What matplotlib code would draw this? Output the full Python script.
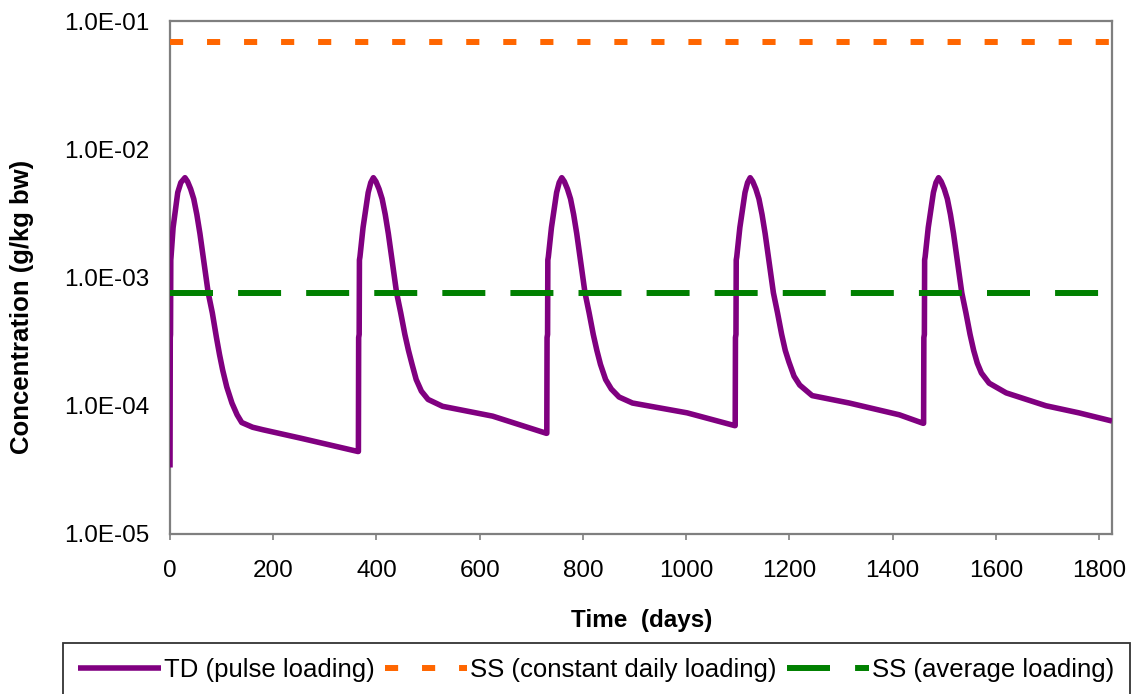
import matplotlib
matplotlib.use('Agg')
import matplotlib.pyplot as plt
from matplotlib.ticker import FixedLocator, FuncFormatter, NullLocator

plt.rcParams['font.family'] = ['Liberation Sans', 'DejaVu Sans']

# ---------------- data ----------------
# TD (pulse loading): time (days) and concentration (g/kg bw)
td_days_c1 = [0, 0.5, 1, 1.5, 2, 6, 15, 21, 29, 34, 40, 46, 52, 58, 66, 74, 82, 90, 96, 102,
              110, 120, 130, 139, 160, 180, 252, 364]
td_conc_c1 = [3.3e-5, 3.4e-4, 3.6e-4, 1.37e-3, 1.45e-3, 2.45e-3, 4.6e-3, 5.5e-3, 6.0e-3, 5.6e-3,
              4.9e-3, 4.1e-3, 3.1e-3, 2.2e-3, 1.3e-3, 7.6e-4, 5.3e-4, 3.4e-4, 2.5e-4, 1.9e-4,
              1.4e-4, 1.05e-4, 8.5e-5, 7.4e-5, 6.8e-5, 6.5e-5, 5.6e-5, 4.4e-5]

td_days_c2 = [365, 365.5, 366.5, 367, 368, 374, 384, 389, 394, 399, 405, 411, 417, 423, 431, 439,
              447, 455, 462, 469, 477, 487, 500, 528, 625, 729]
td_conc_c2 = [4.4e-5, 3.4e-4, 3.6e-4, 1.37e-3, 1.45e-3, 2.45e-3, 4.6e-3, 5.5e-3, 6.0e-3, 5.6e-3,
              4.9e-3, 4.1e-3, 3.1e-3, 2.2e-3, 1.3e-3, 7.6e-4, 5.3e-4, 3.6e-4, 2.7e-4, 2.1e-4,
              1.6e-4, 1.3e-4, 1.12e-4, 9.9e-5, 8.3e-5, 6.1e-5]

td_days_c3 = [730, 730.5, 731.5, 732, 733, 739, 749, 754, 759, 764, 770, 776, 782, 788, 796, 804,
              812, 820, 827, 834, 844, 855, 870, 896, 962, 1002, 1094]
td_conc_c3 = [6.1e-5, 3.4e-4, 3.6e-4, 1.37e-3, 1.45e-3, 2.45e-3, 4.6e-3, 5.5e-3, 6.0e-3, 5.6e-3,
              4.9e-3, 4.1e-3, 3.1e-3, 2.2e-3, 1.3e-3, 7.6e-4, 5.3e-4, 3.6e-4, 2.7e-4, 2.1e-4,
              1.6e-4, 1.35e-4, 1.17e-4, 1.05e-4, 9.4e-5, 8.8e-5, 7.0e-5]

td_days_c4 = [1095, 1095.5, 1096.5, 1097, 1098, 1104, 1114, 1119, 1124, 1129, 1135, 1141, 1147,
              1153, 1161, 1169, 1177, 1185, 1192, 1199, 1209, 1220, 1244, 1316, 1413, 1459]
td_conc_c4 = [7.0e-5, 3.4e-4, 3.6e-4, 1.37e-3, 1.45e-3, 2.45e-3, 4.6e-3, 5.5e-3, 6.0e-3, 5.6e-3,
              4.9e-3, 4.1e-3, 3.1e-3, 2.2e-3, 1.3e-3, 7.6e-4, 5.3e-4, 3.6e-4, 2.7e-4, 2.2e-4,
              1.7e-4, 1.45e-4, 1.2e-4, 1.05e-4, 8.5e-5, 7.3e-5]

td_days_c5 = [1460, 1460.5, 1461.5, 1462, 1463, 1469, 1479, 1484, 1489, 1494, 1500, 1506, 1512,
              1518, 1526, 1534, 1542, 1550, 1557, 1564, 1572, 1587, 1620, 1697, 1761, 1825]
td_conc_c5 = [7.3e-5, 3.4e-4, 3.6e-4, 1.37e-3, 1.45e-3, 2.45e-3, 4.6e-3, 5.5e-3, 6.0e-3, 5.6e-3,
              4.9e-3, 4.1e-3, 3.1e-3, 2.2e-3, 1.3e-3, 7.6e-4, 5.3e-4, 3.6e-4, 2.7e-4, 2.15e-4,
              1.8e-4, 1.5e-4, 1.26e-4, 1.0e-4, 8.8e-5, 7.6e-5]

ss_days = [0, 1825]
ss_const = [6.9e-2, 6.9e-2]       # SS (constant daily loading)
ss_avg = [7.6e-4, 7.6e-4]         # SS (average loading)

x_ticks = [0, 200, 400, 600, 800, 1000, 1200, 1400, 1600, 1800]
y_ticks = [1e-5, 1e-4, 1e-3, 1e-2, 1e-1]

labels = ['TD (pulse loading)', 'SS (constant daily loading)', 'SS (average loading)']

td_days = td_days_c1 + td_days_c2 + td_days_c3 + td_days_c4 + td_days_c5
td_conc = td_conc_c1 + td_conc_c2 + td_conc_c3 + td_conc_c4 + td_conc_c5

# ---------------- figure ----------------
W, H = 1136, 694
fig = plt.figure(figsize=(W / 100, H / 100), dpi=100)
ax = fig.add_axes([170 / W, (H - 534) / H, 942 / W, 513 / H])

ax.plot(td_days, td_conc, color='#800080', lw=4.0, solid_joinstyle='round',
        solid_capstyle='butt', label=labels[0], zorder=3)
ax.plot(ss_days, ss_const, color='#FF6600', lw=4.3, dashes=(2.2, 4.0),
        dash_capstyle='butt', label=labels[1], zorder=4)
ax.plot(ss_days, ss_avg, color='#008000', lw=4.3, dashes=(7.2, 4.2),
        dash_capstyle='butt', label=labels[2], zorder=4)

ax.set_yscale('log')
ax.set_ylim(1e-5, 1e-1)
ax.set_xlim(0, 1825)
ax.yaxis.set_major_locator(FixedLocator(y_ticks))
ax.yaxis.set_minor_locator(NullLocator())
ax.yaxis.set_major_formatter(FuncFormatter(lambda v, p: f'{v:.1E}'))
ax.xaxis.set_major_locator(FixedLocator(x_ticks))

for s in ax.spines.values():
    s.set_color('#7f7f7f')
    s.set_linewidth(1.6)

ax.tick_params(axis='x', direction='out', length=4, width=1.2, color='#7f7f7f',
               labelsize=17.5, pad=15, labelcolor='black')
ax.tick_params(axis='y', length=0, labelsize=17.5, pad=15, labelcolor='black')

fig.text(22 / W, 1 - 307 / H, 'Concentration (g/kg bw)', rotation=90,
         ha='center', va='center', fontsize=18.5, fontweight='bold')
fig.text(642 / W, 1 - 620 / H, 'Time  (days)', ha='center', va='center',
         fontsize=17.5, fontweight='bold')

leg = fig.legend(loc='upper left', bbox_to_anchor=(63 / W, 1 - 643 / H),
                 ncol=3, fontsize=18.5, frameon=True, fancybox=False,
                 handlelength=3.2, handletextpad=0.12, columnspacing=0.4,
                 borderpad=0.6, borderaxespad=0)
leg.get_frame().set_edgecolor('black')
leg.get_frame().set_linewidth(1.3)

fig.savefig('out.png', dpi=100)
